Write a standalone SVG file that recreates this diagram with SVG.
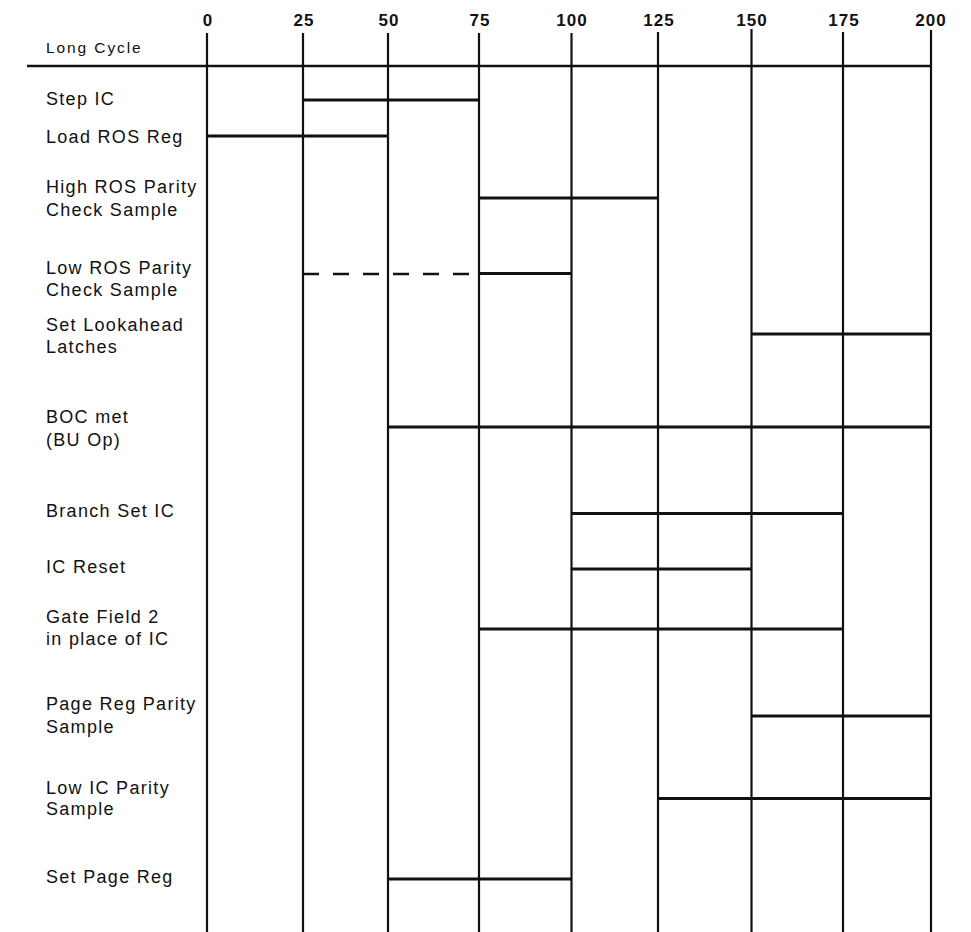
<svg xmlns="http://www.w3.org/2000/svg" width="971" height="932" viewBox="0 0 971 932">
<style>
.lbl{font-family:"Liberation Sans",Arial,sans-serif;font-size:18px;letter-spacing:1.3px;fill:#111}
.tick{font-family:"Liberation Sans",Arial,sans-serif;font-size:17px;font-weight:bold;letter-spacing:1px;fill:#111;text-anchor:middle}
.grid{stroke:#111;stroke-width:2.2;fill:none}
.bar{stroke:#111;stroke-width:3.2;fill:none}
.dash{stroke:#111;stroke-width:2.6;fill:none;stroke-dasharray:16 14}
</style>
<rect width="971" height="932" fill="#fff"/>
<g id="axis">
<text class="tick" x="208" y="26">0</text>
<text class="tick" x="304" y="26">25</text>
<text class="tick" x="389" y="26">50</text>
<text class="tick" x="480" y="26">75</text>
<text class="tick" x="572" y="26">100</text>
<text class="tick" x="659" y="26">125</text>
<text class="tick" x="752" y="26">150</text>
<text class="tick" x="844" y="26">175</text>
<text class="tick" x="931" y="26">200</text>
<text class="lbl" x="46" y="53" style="font-size:15.5px;letter-spacing:1.9px">Long Cycle</text>
<line class="grid" x1="27" y1="66" x2="932" y2="66" style="stroke-width:2.6"/>
<line class="grid" x1="207" y1="33" x2="207" y2="932"/>
<line class="grid" x1="303" y1="33" x2="303" y2="932"/>
<line class="grid" x1="388" y1="33" x2="388" y2="932"/>
<line class="grid" x1="479" y1="33" x2="479" y2="932"/>
<line class="grid" x1="571.5" y1="33" x2="571.5" y2="932"/>
<line class="grid" x1="658" y1="32" x2="658" y2="932"/>
<line class="grid" x1="751.5" y1="29" x2="751.5" y2="932"/>
<line class="grid" x1="843" y1="32" x2="843" y2="932"/>
<line class="grid" x1="931" y1="30" x2="931" y2="932"/>
</g>
<g id="step-ic">
<text class="lbl" x="46" y="105">Step IC</text>
<line class="bar" x1="303" y1="100" x2="479" y2="100"/>
</g>
<g id="load-ros-reg">
<text class="lbl" x="46" y="143">Load ROS Reg</text>
<line class="bar" x1="207" y1="136" x2="388" y2="136"/>
</g>
<g id="high-ros-parity">
<text class="lbl" x="46" y="193">High ROS Parity</text>
<text class="lbl" x="46" y="216">Check Sample</text>
<line class="bar" x1="479" y1="198" x2="658" y2="198"/>
</g>
<g id="low-ros-parity">
<text class="lbl" x="46" y="274">Low ROS Parity</text>
<text class="lbl" x="46" y="296">Check Sample</text>
<line class="dash" x1="303" y1="274" x2="479" y2="274"/>
<line class="bar" x1="479" y1="273.5" x2="571.5" y2="273.5"/>
</g>
<g id="set-lookahead">
<text class="lbl" x="46" y="331">Set Lookahead</text>
<text class="lbl" x="46" y="353">Latches</text>
<line class="bar" x1="751.5" y1="334" x2="931" y2="334"/>
</g>
<g id="boc-met">
<text class="lbl" x="46" y="423">BOC met</text>
<text class="lbl" x="46" y="446">(BU Op)</text>
<line class="bar" x1="388" y1="427" x2="931" y2="427"/>
</g>
<g id="branch-set-ic">
<text class="lbl" x="46" y="517">Branch Set IC</text>
<line class="bar" x1="571.5" y1="513.5" x2="843" y2="513.5"/>
</g>
<g id="ic-reset">
<text class="lbl" x="46" y="573">IC Reset</text>
<line class="bar" x1="571.5" y1="569" x2="751.5" y2="569"/>
</g>
<g id="gate-field-2">
<text class="lbl" x="46" y="623">Gate Field 2</text>
<text class="lbl" x="46" y="645">in place of IC</text>
<line class="bar" x1="479" y1="629" x2="843" y2="629"/>
</g>
<g id="page-reg-parity">
<text class="lbl" x="46" y="710">Page Reg Parity</text>
<text class="lbl" x="46" y="733">Sample</text>
<line class="bar" x1="751.5" y1="716" x2="931" y2="716"/>
</g>
<g id="low-ic-parity">
<text class="lbl" x="46" y="794">Low IC Parity</text>
<text class="lbl" x="46" y="815">Sample</text>
<line class="bar" x1="658" y1="798.5" x2="931" y2="798.5"/>
</g>
<g id="set-page-reg">
<text class="lbl" x="46" y="883">Set Page Reg</text>
<line class="bar" x1="388" y1="879" x2="571.5" y2="879"/>
</g>
</svg>
